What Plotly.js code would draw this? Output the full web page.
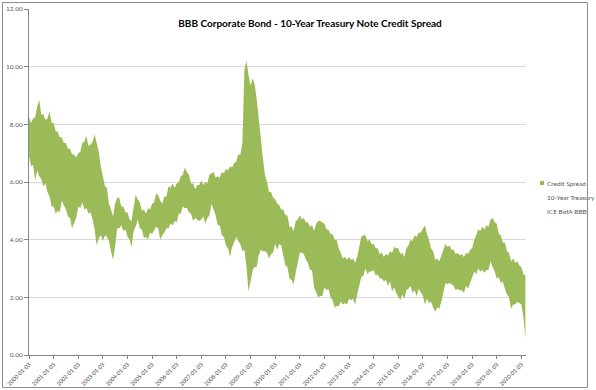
<!DOCTYPE html>
<html>
<head>
<meta charset="utf-8">
<script src="https://cdn.plot.ly/plotly-3.0.1.min.js"></script>
<style>
  html, body { margin: 0; padding: 0; background: #ffffff; }
  #chart { width: 596px; height: 390px; }
</style>
</head>
<body>
<div id="chart"></div>
<script>
// Monthly readings (first trading days), Jan 2000 - Mar 2020
const startYear = 2000;

// 10-Year Treasury yield (lower edge of the band)
const treasury = [
  6.9, 6.55, 6.6, 6.05, 6.4, 6.2, 6.1, 5.85, 5.95, 5.65, 5.5, 5.15,
  5.15, 4.9, 5.0, 4.95, 5.35, 5.2, 5.05, 4.8, 4.75, 4.4, 4.55, 4.75,
  5.15, 5.1, 5.3, 5.05, 5.1, 4.9, 4.95, 4.7, 4.35, 3.8, 4.05, 4.15,
  3.95, 4.15, 4.1, 3.95, 3.6, 3.3, 3.75, 4.4, 4.4, 4.5, 4.3, 4.35,
  4.1, 4.0, 3.75, 4.3, 4.45, 4.7, 4.4, 4.35, 4.05, 4.1, 4.0, 4.25,
  4.2, 4.35, 4.45, 4.4, 4.0, 4.15, 4.25, 4.4, 4.4, 4.55, 4.5, 4.65,
  4.6, 4.9, 4.9, 5.15, 5.1, 5.1, 4.95, 4.9, 4.65, 4.75, 4.7, 4.65,
  4.7, 4.8, 4.55, 4.75, 4.85, 5.25, 5.05, 4.85, 4.5, 4.5, 4.15, 4.1,
  3.8, 3.7, 3.4, 3.75, 3.9, 4.1, 3.95, 3.85, 3.6, 3.65, 3.05, 2.2,
  2.55, 2.95, 3.05, 3.05, 3.45, 3.65, 3.6, 3.6, 3.55, 3.35, 3.5, 3.55,
  3.85, 3.65, 3.85, 3.8, 3.45, 3.1, 3.05, 2.65, 2.6, 2.45, 2.85, 3.25,
  3.55, 3.55, 3.5, 3.3, 3.2, 2.95, 2.95, 2.35, 2.15, 2.0, 2.05, 2.05,
  2.35, 2.25, 2.3, 2.0, 1.9, 1.65, 1.7, 1.7, 1.85, 1.75, 1.8, 1.75,
  1.95, 1.9, 1.95, 1.75, 2.1, 2.45, 2.7, 2.75, 3.0, 2.8, 2.9, 2.9,
  2.95, 2.75, 2.8, 2.65, 2.65, 2.55, 2.6, 2.4, 2.55, 2.2, 2.35, 2.15,
  2.0, 1.9, 2.1, 1.95, 2.25, 2.3, 2.4, 2.15, 2.25, 2.05, 2.3, 2.15,
  2.05, 1.75, 1.95, 1.8, 1.85, 1.65, 1.5, 1.65, 1.6, 1.85, 2.15, 2.5,
  2.45, 2.5, 2.45, 2.4, 2.25, 2.3, 2.25, 2.25, 2.15, 2.4, 2.3, 2.5,
  2.65, 2.9, 2.8, 3.0, 2.9, 2.95, 2.85, 2.95, 2.95, 3.25, 3.05, 2.9,
  2.65, 2.7, 2.5, 2.55, 2.3, 2.1, 2.0, 1.6, 1.75, 1.75, 1.85, 1.8,
  1.75, 1.3, 0.6
];

// ICE BofA BBB effective yield (upper edge of the band)
const bbb = [
  8.25, 8.05, 8.2, 8.25, 8.6, 8.85, 8.35, 8.35, 8.15, 8.2, 8.45, 8.05,
  8.05, 7.75, 7.75, 7.55, 7.55, 7.35, 7.35, 7.15, 7.15, 6.95, 6.95, 6.85,
  7.0, 7.05, 7.35, 7.4, 7.6, 7.25, 7.3, 7.4, 7.65, 7.35, 7.05, 6.55,
  6.25, 5.85, 5.8, 5.25, 5.05, 4.8, 5.25, 5.45, 5.45, 5.15, 5.15, 4.95,
  4.95, 4.7, 4.65, 5.1, 5.55, 5.4, 5.3, 5.0, 5.05, 4.9, 5.1, 5.05,
  5.25, 5.3, 5.6, 5.55, 5.35, 5.25, 5.5, 5.5, 5.85, 5.8, 5.95, 5.8,
  5.95, 6.0, 6.2, 6.25, 6.5, 6.35, 6.25, 5.95, 5.95, 5.75, 5.9, 5.9,
  6.05, 5.9, 6.0, 5.95, 6.25, 6.3, 6.35, 6.15, 6.2, 6.15, 6.35, 6.3,
  6.45, 6.4, 6.55, 6.5, 6.65, 6.7, 6.95, 6.95, 7.35, 9.9, 10.2, 9.7,
  9.35, 9.6, 9.4, 8.9, 8.15, 7.5, 6.85, 6.25, 6.0, 5.65, 5.65, 5.45,
  5.4, 5.25, 5.2, 5.05, 5.05, 4.85, 4.85, 4.45, 4.45, 4.3, 4.65, 4.7,
  4.85, 4.7, 4.75, 4.6, 4.6, 4.45, 4.5, 4.3, 4.55, 4.65, 4.65, 4.6,
  4.55, 4.35, 4.35, 4.2, 4.2, 4.0, 4.0, 3.7, 3.55, 3.35, 3.4, 3.3,
  3.4, 3.3, 3.35, 3.2, 3.4, 3.75, 4.1, 4.15, 4.15, 3.95, 4.0, 3.85,
  3.85, 3.7, 3.7, 3.5, 3.55, 3.4, 3.5, 3.45, 3.6, 3.55, 3.75, 3.7,
  3.7, 3.5, 3.55, 3.4, 3.7, 3.8, 4.0, 3.95, 4.15, 4.1, 4.25, 4.25,
  4.4, 4.5, 4.2, 4.0, 3.7, 3.6, 3.3, 3.35, 3.25, 3.45, 3.6, 3.85,
  3.75, 3.8, 3.65, 3.65, 3.5, 3.55, 3.45, 3.5, 3.4, 3.55, 3.5, 3.65,
  3.7, 4.0, 4.15, 4.35, 4.3, 4.45, 4.35, 4.5, 4.45, 4.7, 4.75, 4.6,
  4.55, 4.2, 4.15, 3.9, 3.9, 3.6, 3.55, 3.25, 3.35, 3.2, 3.25, 3.1,
  3.05, 2.8, 2.75
];

// X-axis tick labels (one per year)
const tickLabels = [
  '2000-01-03','2001-01-03','2002-01-03','2003-01-03','2004-01-03',
  '2005-01-03','2006-01-03','2007-01-03','2008-01-03','2009-01-03',
  '2010-01-03','2011-01-03','2012-01-03','2013-01-03','2014-01-03',
  '2015-01-03','2016-01-03','2017-01-03','2018-01-03','2019-01-03',
  '2020-01-03'
];

const legendNames = ['Credit Spread', '10-Year Treasury', 'ICE BofA BBB'];
const chartTitle = 'BBB Corporate Bond - 10-Year Treasury Note Credit Spread';

// Build monthly dates
const dates = treasury.map((_, i) => {
  const y = startYear + Math.floor(i / 12);
  const m = (i % 12) + 1;
  return y + '-' + (m < 10 ? '0' + m : m) + '-03';
});

const green = '#9BBB59';
const textGrey = '#595959';
const axisGrey = '#868686';
const font = 'Lato, "DejaVu Sans", sans-serif';

const traces = [
  {
    x: dates, y: treasury, type: 'scatter', mode: 'lines',
    name: legendNames[1], line: { width: 0, color: 'rgba(0,0,0,0)' },
    showlegend: false, hoverinfo: 'skip'
  },
  {
    x: dates, y: bbb, type: 'scatter', mode: 'lines',
    name: legendNames[0], fill: 'tonexty', fillcolor: green,
    line: { width: 0, color: green }, showlegend: false
  }
];

// pixel -> paper helpers (plot area: x 29..526, y 9..355)
const PL = 29, PR = 526, PT = 9, PB = 355;
const px = v => (v - PL) / (PR - PL);
const py = v => (PB - v) / (PB - PT);

const legendFont = { family: font, size: 6.5, color: textGrey };
const legendRows = [183, 197, 211];

const annotations = legendNames.map((n, i) => ({
  text: n, xref: 'paper', yref: 'paper', x: px(545), y: py(legendRows[i]),
  xanchor: 'left', yanchor: 'middle', showarrow: false, font: legendFont
}));

const shapes = [
  { type: 'rect', xref: 'paper', yref: 'paper', x0: px(2.5), x1: px(587.5), y0: py(387.5), y1: py(2.5),
    line: { color: '#8c8c8c', width: 1 }, fillcolor: 'rgba(0,0,0,0)', layer: 'below' },
  { type: 'rect', xref: 'paper', yref: 'paper', x0: px(540), x1: px(544), y0: py(185), y1: py(181),
    line: { width: 0 }, fillcolor: green }
];

const layout = {
  width: 596, height: 390,
  margin: { l: PL, r: 596 - PR, t: PT, b: 390 - PB, pad: 0 },
  paper_bgcolor: '#ffffff', plot_bgcolor: '#ffffff',
  showlegend: false,
  title: {
    text: '<b>' + chartTitle + '</b>',
    font: { family: font, size: 10, color: '#000000' },
    xref: 'container', yref: 'container', x: 310 / 596, y: 1 - 23 / 390,
    xanchor: 'center', yanchor: 'middle'
  },
  xaxis: {
    type: 'date', range: ['2000-01-03', '2020-03-12'],
    tickmode: 'array', tickvals: tickLabels, ticktext: tickLabels,
    tickangle: -45, tickfont: { family: font, size: 5.6, color: '#404040' },
    ticks: 'outside', ticklen: 3, tickcolor: axisGrey, tickwidth: 1,
    showline: true, linecolor: axisGrey, linewidth: 1,
    showgrid: false, zeroline: false, fixedrange: true
  },
  yaxis: {
    range: [0, 12], tickmode: 'linear', tick0: 0, dtick: 2, tickformat: '.2f',
    tickfont: { family: font, size: 6.5, color: textGrey },
    ticks: 'outside', ticklen: 4, tickcolor: axisGrey,
    showline: true, linecolor: axisGrey, linewidth: 1,
    showgrid: true, gridcolor: '#d9d9d9', gridwidth: 1, zeroline: false, fixedrange: true
  },
  annotations: annotations,
  shapes: shapes
};

Plotly.newPlot('chart', traces, layout, { displayModeBar: false, staticPlot: true });
</script>
</body>
</html>
